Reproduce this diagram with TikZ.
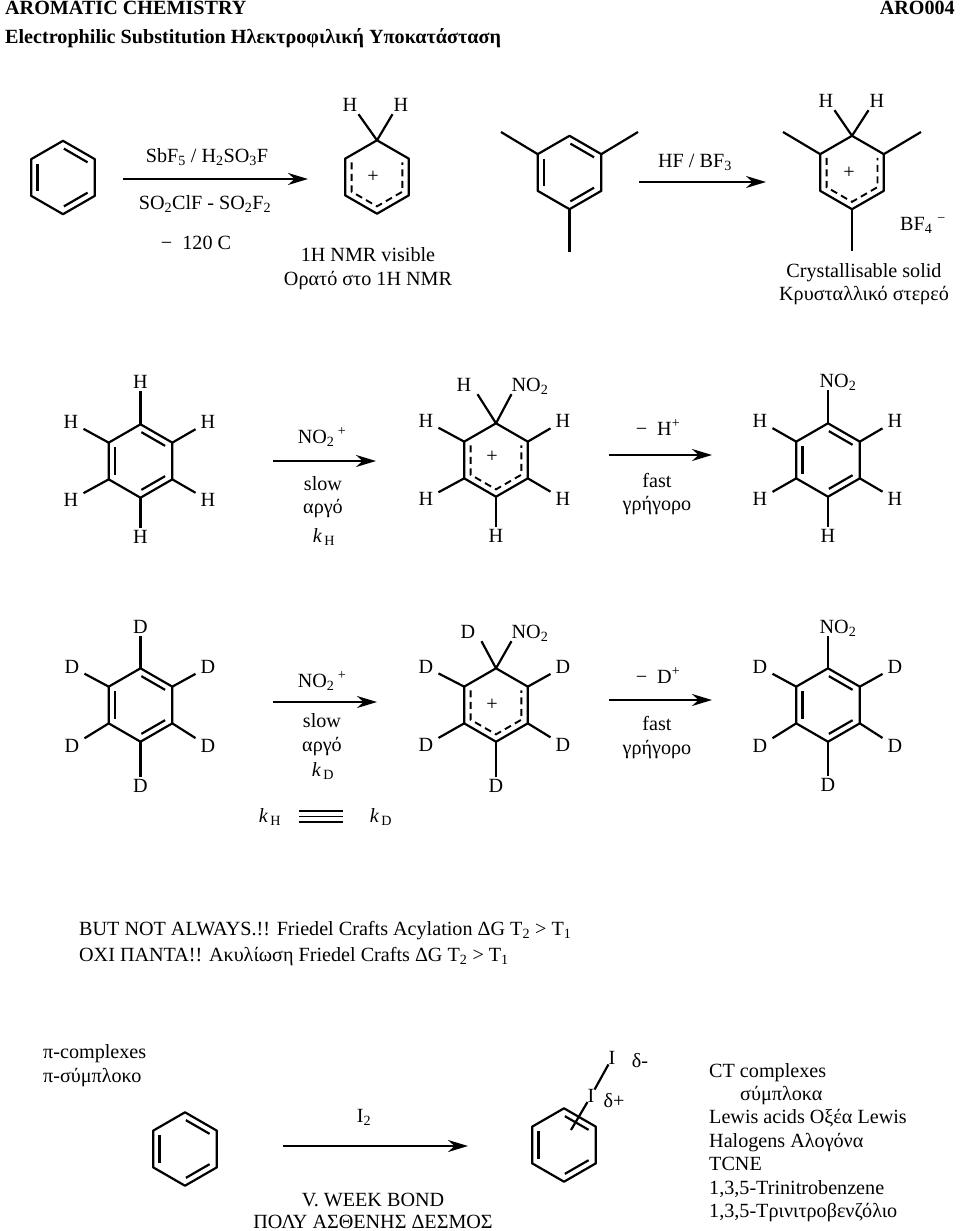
\documentclass[tikz,border=0pt]{standalone}
\usepackage{fontspec}
\setmainfont{Liberation Serif}
\usepackage{tikz}
\usetikzlibrary{calc}
\usetikzlibrary{arrows.meta}

\tikzset{
    lbl/.style={inner sep=0pt,text height=15pt,text depth=3pt,font=\fontsize{20.15}{24}\selectfont},
    lblw/.style={lbl,anchor=west},
    atom/.style={lbl,inner xsep=5pt},
    pairH/.style={lbl,inner xsep=1pt},
    pairfar/.style={lbl,inner xsep=6pt},
    bond/.style={black,line width=2.2pt,line join=round},
    partial/.style={black,line width=1.9pt,dash pattern=on 7pt off 4.5pt},
    rxn/.style={black,line width=2.2pt,-{Stealth[length=20pt,width=12pt]}}
}

% ring atoms: a is the top one, then clockwise
\newcommand{\ringat}[3]{
    \coordinate (#1o) at (#2,#3);
    \coordinate (#1a) at ($(#1o)+(0,-36.7)$);
    \coordinate (#1b) at ($(#1o)+(31.8,-18.35)$);
    \coordinate (#1c) at ($(#1o)+(31.8,18.35)$);
    \coordinate (#1d) at ($(#1o)+(0,36.7)$);
    \coordinate (#1e) at ($(#1o)+(-31.8,18.35)$);
    \coordinate (#1f) at ($(#1o)+(-31.8,-18.35)$);
    \draw[bond] (#1a) -- (#1b) -- (#1c) -- (#1d) -- (#1e) -- (#1f) -- cycle;
}
\newcommand{\benzring}[3]{
    \ringat{#1}{#2}{#3}
    \draw[bond,shorten <=1pt,shorten >=1pt] ($(#1o)!.8!(#1a)$) -- ($(#1o)!.8!(#1b)$);
    \draw[bond,shorten <=1pt,shorten >=1pt] ($(#1o)!.8!(#1c)$) -- ($(#1o)!.8!(#1d)$);
    \draw[bond,shorten <=1pt,shorten >=1pt] ($(#1o)!.8!(#1e)$) -- ($(#1o)!.8!(#1f)$);
}
\newcommand{\cationring}[3]{
    \ringat{#1}{#2}{#3}
    \draw[partial] ($(#1o)!.8!(#1f)$) -- ($(#1o)!.8!(#1e)$) -- ($(#1o)!.8!(#1d)$) -- ($(#1o)!.8!(#1c)$) -- ($(#1o)!.8!(#1b)$);
}
% atoms round a ring, each with its bond
\newcommand{\atomsat}[3]{
    \foreach \v/\px/\py in {#3} {
        \node[atom] (#1\v x) at (\px,\py) {#2};
        \draw[bond] (#1\v) -- (#1\v x);
    }
}

\begin{document}
\begin{tikzpicture}[x=1pt,y=-1pt]
    \useasboundingbox (0,0) rectangle (960,1231);

    % title
    \node[lblw,font=\fontsize{20.15}{24}\selectfont\bfseries] (title) at (5,9) {AROMATIC CHEMISTRY};
    \node[lbl,anchor=east,font=\fontsize{20.15}{24}\selectfont\bfseries] (code) at (955,9) {ARO004};
    \node[lblw,font=\fontsize{20.15}{24}\selectfont\bfseries] (subtitle) at (5,38) {Electrophilic Substitution Ηλεκτροφιλική Υποκατάσταση};

    % first row
    \benzring{ra}{63}{177.5}
    \coordinate (arra) at (123,179);
    \coordinate (arrb) at (308,179);
    \draw[rxn] (arra) -- (arrb);
    \node[lbl] (sbf) at (207,156) {SbF\textsubscript{5} / H\textsubscript{2}SO\textsubscript{3}F};
    \node[lbl] (so) at (205,203) {SO\textsubscript{2}ClF - SO\textsubscript{2}F\textsubscript{2}};
    \node[lbl] (temp) at (196,243) {−\ \ 120 C};

    \cationring{rb}{377}{177}
    \node[lbl] (rbplus) at (373,176) {+};
    \node[pairH] (rbl) at (350,105) {H};
    \node[pairH] (rbr) at (401,105) {H};
    \draw[bond] (rba) -- (rbl.south east);
    \draw[bond] (rba) -- (rbr.south west);
    \node[lbl] (nmr) at (368,255) {1H NMR visible};
    \node[lbl] (nmrg) at (368,279) {Ορατό στο 1H NMR};

    \benzring{rc}{569.5}{172.5}
    \coordinate (rcm1) at (501,132);
    \coordinate (rcm2) at (638,132);
    \coordinate (rcm3) at (569.5,252);
    \draw[bond] (rcf) -- (rcm1);
    \draw[bond] (rcb) -- (rcm2);
    \draw[bond] (rcd) -- (rcm3);
    \coordinate (arrc) at (639,182);
    \coordinate (arrd) at (766,182);
    \draw[rxn] (arrc) -- (arrd);
    \node[lbl] (hf) at (695,161) {HF / BF\textsubscript{3}};

    \cationring{rd}{852}{172.5}
    \node[lbl] (rdplus) at (849,172) {+};
    \node[pairH] (rdl) at (826,101) {H};
    \node[pairH] (rdr) at (877,101) {H};
    \draw[bond] (rda) -- (rdl.south east);
    \draw[bond] (rda) -- (rdr.south west);
    \coordinate (rdm1) at (783,132);
    \coordinate (rdm2) at (921,132);
    \coordinate (rdm3) at (852,251);
    \draw[bond] (rdf) -- (rdm1);
    \draw[bond] (rdb) -- (rdm2);
    \draw[bond] (rdd) -- (rdm3);
    \node[lbl] (bf) at (923,224) {BF\textsubscript{4}\ \textsuperscript{−}};
    \node[lbl] (cry) at (864,271) {Crystallisable solid};
    \node[lbl] (cryg) at (864,294) {Κρυσταλλικό στερεό};

    % H row
    \benzring{re}{140.5}{461}
    \atomsat{re}{H}{a/140.5/382,b/208/422,c/208/500,d/140.5/537,e/71/500,f/71/422}
    \coordinate (arre) at (273,461);
    \coordinate (arrf) at (376,461);
    \draw[rxn] (arre) -- (arrf);
    \node[lbl] (no2h) at (322,437) {NO\textsubscript{2}\,\textsuperscript{+}};
    \node[lbl] (slowh) at (323,484) {slow};
    \node[lbl] (slowhg) at (323,507) {αργό};
    \node[lbl] (kh) at (324,536) {\textit{k}\textsubscript{\,H}};

    \cationring{rf}{496}{460}
    \node[lbl] (rfplus) at (492,456) {+};
    \atomsat{rf}{H}{b/563/421,c/563/499,d/496/536,e/426/499,f/426/421}
    \node[pairfar] (rfh) at (464,385) {H};
    \node[lbl] (rfn) at (530,385) {NO\textsubscript{2}};
    \draw[bond] (rfa) -- (rfh.south east);
    \draw[bond] (rfa) -- (rfn.south west);
    \coordinate (arrg) at (609,455);
    \coordinate (arrh) at (712,455);
    \draw[rxn] (arrg) -- (arrh);
    \node[lbl] (lossh) at (658,429) {−\ \ H\textsuperscript{+}};
    \node[lbl] (fasth) at (657,481) {fast};
    \node[lbl] (fasthg) at (657,504) {γρήγορο};

    \benzring{rg}{828}{460}
    \atomsat{rg}{H}{b/895/421,c/895/499,d/828/536,e/760/499,f/760/421}
    \node[lbl] (rgn) at (838,381) {NO\textsubscript{2}};
    \draw[bond] (rga) -- (rga |- rgn.south);

    % D row
    \benzring{rh}{140.5}{705}
    \atomsat{rh}{D}{a/140.5/627,b/208/667,c/208/746,d/140.5/786,e/72/746,f/72/667}
    \coordinate (arri) at (273,702);
    \coordinate (arrj) at (377,702);
    \draw[rxn] (arri) -- (arrj);
    \node[lbl] (no2d) at (322,681) {NO\textsubscript{2}\,\textsuperscript{+}};
    \node[lbl] (slowd) at (322,721) {slow};
    \node[lbl] (slowdg) at (322,745) {αργό};
    \node[lbl] (kd) at (323,770) {\textit{k}\textsubscript{\,D}};

    \cationring{ri}{496}{705}
    \node[lbl] (riplus) at (492,704) {+};
    \atomsat{ri}{D}{b/563/667,c/563/745,d/496/786,e/426/745,f/426/667}
    \node[pairfar] (rid) at (468,632) {D};
    \node[lbl] (rin) at (530,632) {NO\textsubscript{2}};
    \draw[bond] (ria) -- (rid.south east);
    \draw[bond] (ria) -- (rin.south west);
    \coordinate (arrk) at (609,700);
    \coordinate (arrl) at (712,700);
    \draw[rxn] (arrk) -- (arrl);
    \node[lbl] (lossd) at (658,677) {−\ \ D\textsuperscript{+}};
    \node[lbl] (fastd) at (657,724) {fast};
    \node[lbl] (fastdg) at (657,748) {γρήγορο};

    \benzring{rj}{828}{705}
    \atomsat{rj}{D}{b/895/667,c/895/746,d/828/785,e/760/746,f/760/667}
    \node[lbl] (rjn) at (838,627) {NO\textsubscript{2}};
    \draw[bond] (rja) -- (rja |- rjn.south);

    % rate constants
    \node[lbl] (kha) at (270,816) {\textit{k}\textsubscript{\,H}};
    \node[lbl] (kda) at (381,816) {\textit{k}\textsubscript{\,D}};
    \foreach \n/\py in {p/811,q/816.5,r/822} {
        \coordinate (eq\n a) at (299,\py);
        \coordinate (eq\n b) at (343,\py);
        \draw[black,line width=1.8pt] (eq\n a) -- (eq\n b);
    }

    % note
    \node[lblw] (but) at (79,929) {BUT NOT ALWAYS.!! Friedel Crafts Acylation ΔG T\textsubscript{2} > T\textsubscript{1}};
    \node[lblw] (oxi) at (79,955) {ΟΧΙ ΠΑΝΤΑ!! Ακυλίωση Friedel Crafts ΔG T\textsubscript{2} > T\textsubscript{1}};

    % complexes
    \node[lblw] (pic) at (43,1052) {π-complexes};
    \node[lblw] (picg) at (43,1076) {π-σύμπλοκο};
    \benzring{rk}{185}{1149}
    \coordinate (arrm) at (283,1146);
    \coordinate (arrn) at (468,1146);
    \draw[rxn] (arrm) -- (arrn);
    \node[lbl] (iod) at (364,1116) {I\textsubscript{2}};
    \node[lbl] (week) at (373,1200) {V. WEEK BOND};
    \node[lbl] (weekg) at (373,1222) {ΠΟΛΥ ΑΣΘΕΝΗΣ ΔΕΣΜΟΣ};

    \benzring{rl}{564}{1145}
    \node[lbl] (ia) at (612,1058) {I};
    \node[lbl] (ib) at (591,1096) {I};
    \node[lbl] (da) at (640,1061) {δ-};
    \node[lbl] (db) at (614,1101) {δ+};
    \coordinate (rlin) at (571,1130);
    \draw[bond] (ia) -- (ib);
    \draw[bond] (ib) -- (rlin);

    \node[lblw] (cta) at (709,1071) {CT complexes};
    \node[lblw] (ctb) at (740,1094) {σύμπλοκα};
    \node[lblw] (ctc) at (709,1117) {Lewis acids Οξέα Lewis};
    \node[lblw] (ctd) at (709,1141) {Halogens Αλογόνα};
    \node[lblw] (cte) at (709,1164) {TCNE};
    \node[lblw] (ctf) at (709,1188) {1,3,5-Trinitrobenzene};
    \node[lblw] (ctg) at (709,1211) {1,3,5-Τρινιτροβενζόλιο};
\end{tikzpicture}
\end{document}
